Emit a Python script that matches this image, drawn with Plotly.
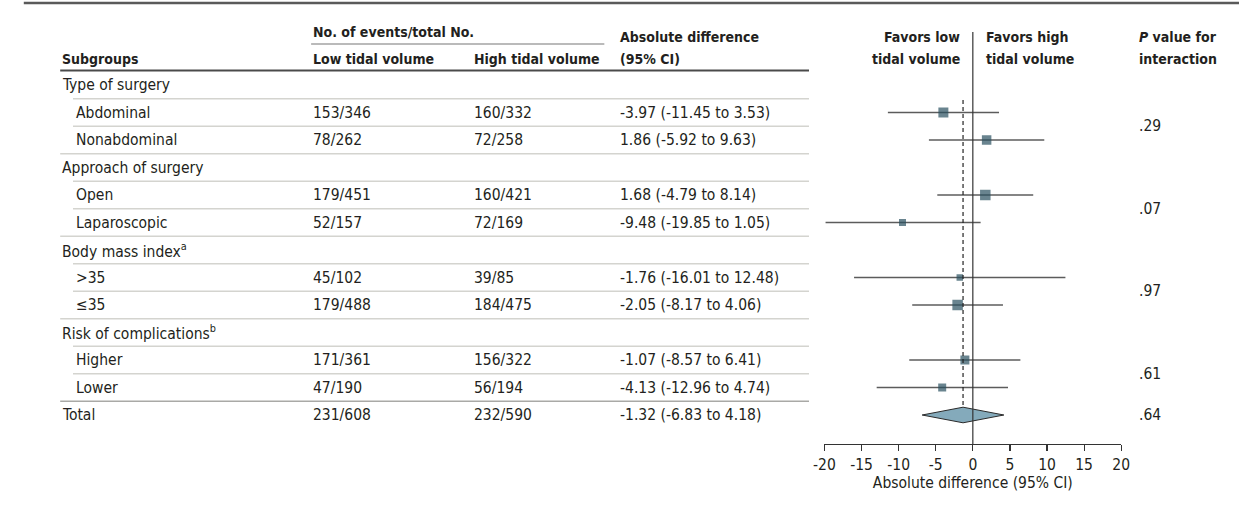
import plotly.graph_objects as go

# ---------------- data ----------------
subgroups = ["Type of surgery", "Abdominal", "Nonabdominal",
             "Approach of surgery", "Open", "Laparoscopic",
             "Body mass index<sup>a</sup>", ">35", "≤35",
             "Risk of complications<sup>b</sup>", "Higher", "Lower",
             "Total"]
is_heading = [True, False, False, True, False, False, True, False, False,
              True, False, False, True]
low_events = ["", "153/346", "78/262", "", "179/451", "52/157", "",
              "45/102", "179/488", "", "171/361", "47/190", "231/608"]
high_events = ["", "160/332", "72/258", "", "160/421", "72/169", "",
               "39/85", "184/475", "", "156/322", "56/194", "232/590"]

# estimates for subgroup rows (row index, diff, lower, upper)
item_rows = [1, 2, 4, 5, 7, 8, 10, 11]
item_diff = [-3.97, 1.86, 1.68, -9.48, -1.76, -2.05, -1.07, -4.13]
item_lo = [-11.45, -5.92, -4.79, -19.85, -16.01, -8.17, -8.57, -12.96]
item_hi = [3.53, 9.63, 8.14, 1.05, 12.48, 4.06, 6.41, 4.74]

total_row = 12
total_diff, total_lo, total_hi = -1.32, -6.83, 4.18

# P value for interaction, with the group's mid row
p_labels = [".29", ".07", ".97", ".61", ".64"]
p_rows = [1.5, 4.5, 7.5, 10.5, 12]

tick_vals = [-20, -15, -10, -5, 0, 5, 10, 15, 20]
tick_text = ["-20", "-15", "-10", "-5", "0", "5", "10", "15", "20"]

# ---------------- style ----------------
W, H = 1248, 510
ROW0, ROWH = 85, 27.5          # pixel centre of first row, row spacing
FONT = "DejaVu Sans Condensed, Liberation Sans, sans-serif"
FS = 15.5
HFS = 14
TXT = "#231f20"
MARK = "#2a5060"
marker_px = [10, 9.5, 10.5, 7, 6.5, 10.5, 9, 8]


def py(p):
    """pixel y -> row coordinate"""
    return (p - ROW0) / ROWH


def px(p):
    return p / W


fig = go.Figure()

# subgroup estimates
fig.add_trace(go.Scatter(
    x=item_diff, y=item_rows, mode="markers",
    marker=dict(symbol="square", size=marker_px, color=MARK, line=dict(width=0)),
    error_x=dict(type="data", symmetric=False,
                 array=[h - d for h, d in zip(item_hi, item_diff)],
                 arrayminus=[d - l for d, l in zip(item_diff, item_lo)],
                 color="#5c5c5c", thickness=1.4, width=0),
    hoverinfo="skip", cliponaxis=False))

# total diamond
dh = 7.8 / ROWH
fig.add_trace(go.Scatter(
    x=[total_lo, total_diff, total_hi, total_diff, total_lo],
    y=[total_row, total_row - dh, total_row, total_row + dh, total_row],
    mode="lines", fill="toself", fillcolor="#84aabb",
    line=dict(color="#2a2a2a", width=1), hoverinfo="skip"))

shapes = []
ann = []

# top rule
shapes.append(dict(type="line", xref="paper", yref="y", x0=px(13), x1=1,
                   y0=py(3), y1=py(3), line=dict(color="#5a5a5a", width=2.5)))
# header underline for event columns
shapes.append(dict(type="line", xref="paper", yref="y", x0=px(305), x1=px(603),
                   y0=py(44), y1=py(44), line=dict(color="#777777", width=1.2)))
# header bottom rule
shapes.append(dict(type="line", xref="paper", yref="y", x0=px(50), x1=px(811),
                   y0=py(70.5), y1=py(70.5), line=dict(color="#4a4a4a", width=2)))

# row separators
for i in range(len(subgroups) - 1):
    nxt_heading = is_heading[i + 1]
    x0 = 50 if nxt_heading else 63
    col = "#a9a9a6" if i + 1 == total_row else "#d4d4cf"
    shapes.append(dict(type="line", xref="paper", yref="y", x0=px(x0), x1=px(811),
                       y0=i + 0.5, y1=i + 0.5, line=dict(color=col, width=1.5)))

# zero line and dashed overall line
shapes.append(dict(type="line", xref="x", yref="y", x0=0, x1=0,
                   y0=py(32), y1=py(444), line=dict(color="#333333", width=1.2)))
shapes.append(dict(type="line", xref="x", yref="y", x0=total_diff, x1=total_diff,
                   y0=py(100), y1=total_row - dh,
                   line=dict(color="#222222", width=1.2, dash="4px,3px")))


def text(x, y, s, anchor="left", bold=False):
    ann.append(dict(xref="paper", yref="y", x=px(x), y=y,
                    text=(f"<b>{s}</b>" if bold else s),
                    showarrow=False, xanchor=anchor, yanchor="middle",
                    font=dict(family=FONT, size=(HFS if bold else FS), color=TXT)))


# headers
text(305, py(32), "No. of events/total No.", bold=True)
text(50, py(58.5), "Subgroups", bold=True)
text(305, py(58.5), "Low tidal volume", bold=True)
text(469, py(58.5), "High tidal volume", bold=True)
text(617, py(37), "Absolute difference", bold=True)
text(617, py(58.5), "(95% CI)", bold=True)
text(966, py(37), "Favors low", anchor="right", bold=True)
text(966, py(58.5), "tidal volume", anchor="right", bold=True)
text(989, py(37), "Favors high", bold=True)
text(989, py(58.5), "tidal volume", bold=True)
text(1144, py(37), "<i>P</i> value for", bold=True)
text(1144, py(58.5), "interaction", bold=True)

# table body
for i, name in enumerate(subgroups):
    indent = 50 if is_heading[i] else 64
    text(indent, i, name)
    if low_events[i]:
        text(305, i, low_events[i])
        text(469, i, high_events[i])

for r, d, l, h in zip(item_rows + [total_row], item_diff + [total_diff],
                      item_lo + [total_lo], item_hi + [total_hi]):
    text(617, r, f"{d:.2f} ({l:.2f} to {h:.2f})")

for lab, r in zip(p_labels, p_rows):
    text(1144, r, lab)

fig.update_layout(
    width=W, height=H, margin=dict(l=0, r=0, t=0, b=0),
    paper_bgcolor="white", plot_bgcolor="white", showlegend=False,
    shapes=shapes, annotations=ann,
    font=dict(family=FONT, size=FS, color=TXT),
    xaxis=dict(domain=[826.7 / W, 1128.3 / W], range=[-20, 20],
               anchor="free", position=(H - 444) / H,
               showline=True, linecolor="#333333", linewidth=1.2,
               ticks="outside", ticklen=6, tickcolor="#333333", tickwidth=1.2,
               tickvals=tick_vals, ticktext=tick_text,
               showgrid=False, zeroline=False,
               tickfont=dict(family=FONT, size=FS, color=TXT),
               title=dict(text="Absolute difference (95% CI)", standoff=4,
                          font=dict(family=FONT, size=FS, color=TXT))),
    yaxis=dict(domain=[0, 1], range=[py(H), py(0)], visible=False,
               showgrid=False, zeroline=False),
)

fig.write_html("out.html", config={"displayModeBar": False, "staticPlot": True},
               post_script="document.body.style.margin='0';document.body.style.overflow='hidden';")
